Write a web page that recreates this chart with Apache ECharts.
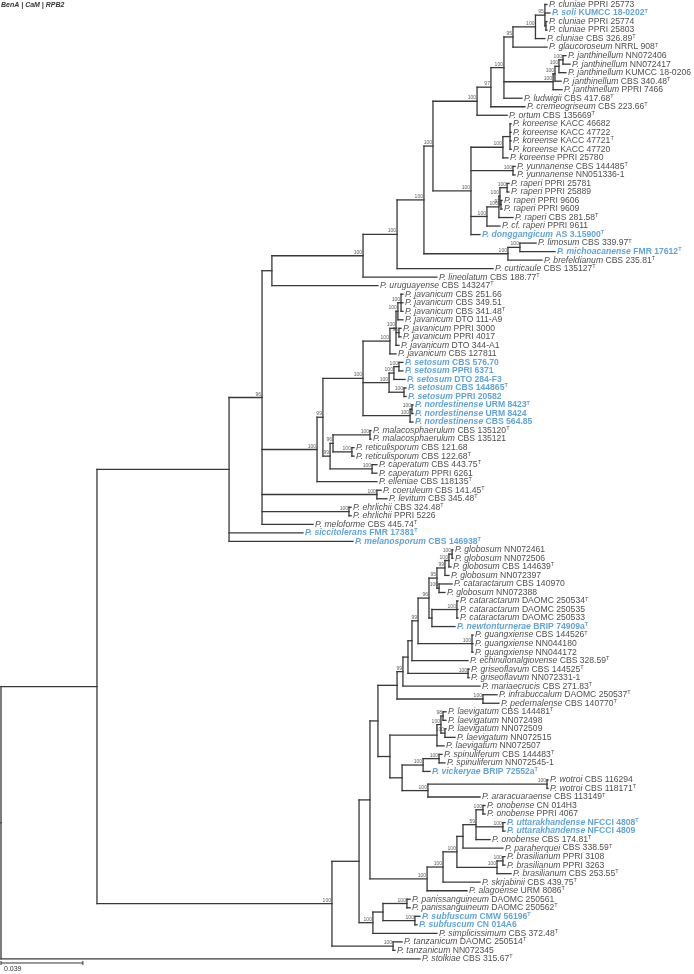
<!DOCTYPE html>
<html><head><meta charset="utf-8">
<script src="https://cdn.jsdelivr.net/npm/echarts@6/dist/echarts.min.js"></script>
<style>html,body{margin:0;padding:0;background:#fff}#c{width:694px;height:974px}</style>
</head><body><div id="c"></div>
<script>
// ---- taxa (leaf order, top to bottom) ----
const taxa = ["cluniae","soli","cluniae","cluniae","cluniae","glaucoroseum","janthinellum","janthinellum","janthinellum","janthinellum","janthinellum","ludwigii","cremeogriseum","ortum","koreense","koreense","koreense","koreense","koreense","yunnanense","yunnanense","raperi","raperi","raperi","raperi","raperi","cf. raperi","donggangicum","limosum","michoacanense","brefeldianum","curticaule","lineolatum","uruguayense","javanicum","javanicum","javanicum","javanicum","javanicum","javanicum","javanicum","javanicum","setosum","setosum","setosum","setosum","setosum","nordestinense","nordestinense","nordestinense","malacosphaerulum","malacosphaerulum","reticulisporum","reticulisporum","caperatum","caperatum","elleniae","coeruleum","levitum","ehrlichii","ehrlichii","meloforme","siccitolerans","melanosporum","globosum","globosum","globosum","globosum","cataractarum","globosum","cataractarum","cataractarum","cataractarum","newtonturnerae","guangxiense","guangxiense","guangxiense","echinulonalgiovense","griseoflavum","griseoflavum","mariaecrucis","infrabuccalum","pedernalense","laevigatum","laevigatum","laevigatum","laevigatum","laevigatum","spinuliferum","spinuliferum","vickeryae","wotroi","wotroi","araracuaraense","onobense","onobense","uttarakhandense","uttarakhandense","onobense","paraherquei","brasilianum","brasilianum","brasilianum","skrjabinii","alagoense","panissanguineum","panissanguineum","subfuscum","subfuscum","simplicissimum","tanzanicum","tanzanicum","stolkiae"];
const strains = ["PPRI 25773","KUMCC 18-0202","PPRI 25774","PPRI 25803","CBS 326.89","NRRL 908","NN072406","NN072417","KUMCC 18-0206","CBS 340.48","PPRI 7466","CBS 417.68","CBS 223.66","CBS 135669","KACC 46682","KACC 47722","KACC 47721","KACC 47720","PPRI 25780","CBS 144485","NN051336-1","PPRI 25781","PPRI 25889","PPRI 9606","PPRI 9609","CBS 281.58","PPRI 9611","AS 3.15900","CBS 339.97","FMR 17612","CBS 235.81","CBS 135127","CBS 188.77","CBS 143247","CBS 251.66","CBS 349.51","CBS 341.48","DTO 111-A9","PPRI 3000","PPRI 4017","DTO 344-A1","CBS 127811","CBS 576.70","PPRI 6371","DTO 284-F3","CBS 144865","PPRI 20582","URM 8423","URM 8424","CBS 564.85","CBS 135120","CBS 135121","CBS 121.68","CBS 122.68","CBS 443.75","PPRI 6261","CBS 118135","CBS 141.45","CBS 345.48","CBS 324.48","PPRI 5226","CBS 445.74","FMR 17381","CBS 146938","NN072461","NN072506","CBS 144639","NN072397","CBS 140970","NN072388","DAOMC 250534","DAOMC 250535","DAOMC 250533","BRIP 74909a","CBS 144526","NN044180","NN044172","CBS 328.59","CBS 144525","NN072331-1","CBS 271.83","DAOMC 250537","CBS 140770","CBS 144481","NN072498","NN072509","NN072515","NN072507","CBS 144483","NN072545-1","BRIP 72552a","CBS 116294","CBS 118171","CBS 113149","CN 014H3","PPRI 4067","NFCCI 4808","NFCCI 4809","CBS 174.81","CBS 338.59","PPRI 3108","PPRI 3263","CBS 253.55","CBS 439.75","URM 8086","DAOMC 250561","DAOMC 250562","CMW 56196","CN 014A6","CBS 372.48","DAOMC 250514","NN072345","CBS 315.67"];
// leaf numbers (1-based) that are ex-type strains
const typeStrains = [2,5,6,10,12,13,14,17,20,26,28,29,30,31,32,33,34,37,46,48,51,54,55,57,58,59,60,62,63,64,67,71,74,75,78,79,81,82,83,84,89,91,93,94,97,99,100,103,104,105,107,108,110,111,113];
// leaf numbers highlighted in blue bold
const highlighted = [2,28,30,43,44,45,46,47,48,49,50,63,64,74,91,97,98,108,109];

// ---- tree: leaf number / support, ":" = distance from root (substitutions/site) ----
const tCluniae = "((((1:.2600,2:.2614,(3:.2600,4:.2600):.2595)95:.2590,5:.2590)100:.2545,6:.2600)95:.2438";
const tJanth = "((((7:.2690,8:.2710)100:.2676,9:.2690)100:.2657,10:.2667)100:.2638,11:.2671)100:.2629";
const tO = `(((${tCluniae},${tJanth},12:.2481)100:.2395,13:.2495)97:.2333,14:.2410)100:.2267`;
const tRaperi = "((((22:.2419,23:.2419)100:.2410,(24:.2386,25:.2386)97:.2381)100:.2376,26:.2438)100:.2371,27:.2376)100:.2314";
const tR = `(((15:.2429,16:.2429,17:.2429,18:.2429):.2424,19:.2414)100:.2390,(20:.2448,21:.2448)100:.2438,${tRaperi},28:.2281)100:.2238`;
const tL = "((29:.2548,30:.2638)100:.2471,31:.2576)100:.2414";
const tT = `((((${tO},${tR})100:.2057,${tL})100:.2014,32:.2343)100:.1886,33:.2076)100:.1724`;
const tJav = "((((35:.1914,36:.1914,37:.1914)100:.1905,38:.1914)100:.1890,(39:.1905,40:.1905)96:.1895,41:.1895)100:.1881,42:.1881)100:.1852";
const tSet = "(((43:.1914,44:.1914)100:.1895,45:.1924)100:.1871,(46:.1929,47:.1929)100:.1919)100:.1848";
const tNord = "((48:.1962,49:.1962)100:.1957,50:.1962)100:.1948";
const tW = `(${tJav},${tSet},${tNord})100:.1724`;
const tU2 = "(((51:.1762,52:.1762)100:.1757,(53:.1681,54:.1681)100:.1671)96:.1581,(55:.1790,56:.1790)100:.1767)99:.1567";
const tY = `((${tW},${tU2})99:.1533,57:.1790)100:.1505`;
const tCL = "(58:.1810,59:.1838)100:.1790";
const tEh = "(60:.1667,61:.1667)100:.1657";
const tTop = `(((${tT},34:.1795):.1290,${tY},${tCL},${tEh},62:.1486)96:.1243,63:.1438,64:.1676):.1086`;
const tGlob = "((((65:.2152,66:.2152)100:.2148,67:.2143)100:.2133,68:.2133)99:.2114,(69:.2148,70:.2114)100:.2086)95:.2076";
const tCat = "((71:.2176,72:.2176,73:.2176)100:.2171,74:.2162):.2052";
const tH5 = `((((((${tGlob},${tCat})96:.2038,(75:.2248,76:.2248,77:.2248)100:.2243)99:.1986,78:.2224):.1957,(79:.2229,80:.2229)100:.2224):.1938,81:.2281)99:.1914,(82:.2362,83:.2371)100:.2295):.1886`;
const tLaev = "(((84:.2119,85:.2119)98:.2105,(86:.2119,87:.2162)100:.2114)100:.2095,88:.2110):.2076";
const tV1 = "(((89:.2100,90:.2114)100:.2086,91:.2043)100:.2010,((92:.2605,93:.2605)100:.2600,94:.2281)100:.2033):.1910";
const tV3 = `(${tH5},(${tLaev},${tV1}):.1852):.1795`;
const tB7 = "((((((95:.2305,96:.2305)100:.2295,(97:.2400,98:.2400)100:.2390,99:.2329)59:.2262,100:.2390):.2200,((101:.2400,102:.2400)100:.2390,103:.2429)100:.2362)100:.2171,104:.2281)100:.2105,105:.2219)100:.2029";
const tSi = "(((106:.1948,107:.1948)100:.1933,(108:.1995,109:.1981)100:.1971):.1819,110:.2076)100:.1771";
const tE = `(((${tV3},${tB7}):.1757,${tSi}):.1705,(111:.1910,112:.1876)100:.1867)100:.1576`;
const treeString = `((${tTop},${tE}):.0457,113:.1995):0`;

const scaleBarLength = 0.039;
const title = "BenA | CaM | RPB2";

// ---- parse & layout ----
function parseTree(s){
  s = s.replace(/\s+/g,''); let i = 0;
  function rd(){
    const n = {children: []};
    if (s[i] === '('){ i++; n.children.push(rd()); while (s[i] === ','){ i++; n.children.push(rd()); } i++; }
    let lab = ''; while (i < s.length && ':,()'.indexOf(s[i]) < 0) lab += s[i++];
    if (s[i] === ':'){ i++; let num = ''; while (i < s.length && ',()'.indexOf(s[i]) < 0) num += s[i++]; n.depth = parseFloat(num); }
    if (!n.children.length) n.leaf = parseInt(lab, 10); else n.support = lab;
    return n;
  }
  return rd();
}
const root = parseTree(treeString);
function layout(n){
  if (n.leaf){ n.y = n.leaf - 1; return; }
  n.children.forEach(layout);
  n.y = (n.children[0].y + n.children[n.children.length-1].y) / 2;
}
layout(root);
const segs = [], supports = [], tips = [];
function walk(n){
  if (n.leaf){ tips.push([n.depth, n.y, n.leaf - 1]); return; }
  const c = n.children;
  segs.push([n.depth, c[0].y, n.depth, c[c.length-1].y]);
  c.forEach(ch => { segs.push([n.depth, ch.y, ch.depth, ch.y]); walk(ch); });
  if (n.support) supports.push([n.depth, n.y, n.support]);
}
walk(root);

const typeSet = new Set(typeStrains), hiSet = new Set(highlighted);
const F = '"Liberation Sans", Arial, sans-serif';
const INK = '#1a1a1a', BLUE = '#3a8dd0', FS = 8.6;

const chart = echarts.init(document.getElementById('c'), null, {renderer: 'canvas'});
chart.setOption({
  animation: false,
  backgroundColor: '#fff',
  grid: {left: 1, right: 0, top: 4.5, bottom: 15.1},
  xAxis: {type: 'value', min: 0, max: 0.33, show: false},
  yAxis: {type: 'value', min: 0, max: 112, inverse: true, show: false},
  graphic: [{type: 'text', left: 1, top: 2, style: {text: title, font: 'italic bold 7px ' + F, fill: '#333'}}],
  series: [
    {
      type: 'custom', coordinateSystem: 'cartesian2d', clip: false, data: segs,
      encode: {x: [0, 2], y: [1, 3]},
      renderItem: (p, api) => {
        const a = api.coord([api.value(0), api.value(1)]), b = api.coord([api.value(2), api.value(3)]);
        return {type: 'line', shape: {x1: a[0], y1: a[1], x2: b[0], y2: b[1]}, style: {stroke: '#383838', lineWidth: 1.3, lineCap: 'square'}};
      }
    },
    {
      type: 'custom', coordinateSystem: 'cartesian2d', clip: false,
      data: [[0, 112.48, scaleBarLength]],
      encode: {x: [0, 2], y: 1},
      renderItem: (p, api) => {
        const a = api.coord([api.value(0), api.value(1)]), b = api.coord([api.value(2), api.value(1)]);
        const st = {stroke: '#333', lineWidth: 1};
        return {type: 'group', children: [
          {type: 'line', shape: {x1: a[0], y1: a[1], x2: b[0], y2: b[1]}, style: st},
          {type: 'line', shape: {x1: a[0], y1: a[1]-2, x2: a[0], y2: a[1]+2}, style: st},
          {type: 'line', shape: {x1: b[0], y1: b[1]-2, x2: b[0], y2: b[1]+2}, style: st},
          {type: 'text', style: {text: String(api.value(2)), x: a[0] + 3, y: a[1] + 3, font: '7px ' + F, fill: '#333'}}
        ]};
      }
    },
    {
      type: 'scatter', symbolSize: 0, silent: true,
      data: tips.map(t => ({value: [t[0], t[1]], idx: t[2]})),
      label: {
        show: true, position: 'right', distance: 2,
        formatter: p => {
          const k = p.data.idx, n = k + 1, hi = hiSet.has(n), T = typeSet.has(n);
          return hi ? `{bi|P. ${taxa[k]}}{b| ${strains[k]}}` + (T ? '{bs|T}' : '')
                    : `{i|P. ${taxa[k]}}{n| ${strains[k]}}` + (T ? '{s|T}' : '');
        },
        rich: {
          i: {fontStyle: 'italic', fontSize: FS, fontFamily: F, color: INK, lineHeight: 10},
          n: {fontSize: FS, fontFamily: F, color: INK, lineHeight: 10},
          s: {fontSize: 5.5, fontFamily: F, color: INK, verticalAlign: 'top', lineHeight: 10, padding: [0,0,4,0]},
          bi: {fontStyle: 'italic', fontWeight: 'bold', fontSize: FS, fontFamily: F, color: BLUE, lineHeight: 10},
          b: {fontWeight: 'bold', fontSize: FS, fontFamily: F, color: BLUE, lineHeight: 10},
          bs: {fontWeight: 'bold', fontSize: 5.5, fontFamily: F, color: BLUE, verticalAlign: 'top', lineHeight: 10, padding: [0,0,4,0]}
        }
      }
    },
    {
      type: 'scatter', symbolSize: 0, silent: true,
      data: supports.map(s => ({value: [s[0], s[1]], sup: s[2]})),
      label: {show: true, position: 'left', distance: 1, offset: [0, -3.3], fontSize: 5, fontFamily: F, color: '#333', formatter: p => p.data.sup}
    }
  ]
});
</script></body></html>
